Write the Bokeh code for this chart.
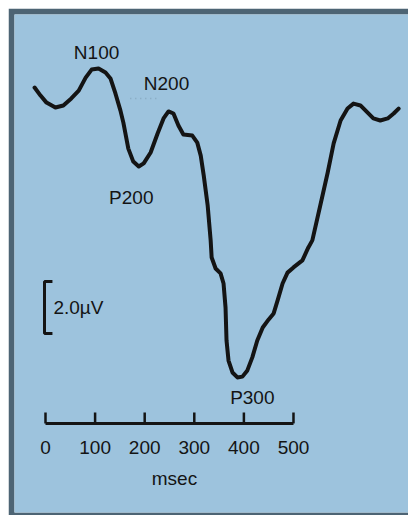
from bokeh.plotting import figure
from bokeh.models import Range1d, Label
from bokeh.core.properties import value
from bokeh.embed import file_html
from bokeh.resources import INLINE

# ERP waveform: time (ms) and amplitude (µV, negative plotted up)
time_ms = [-22, -10, 2, 20, 36, 52, 67, 81, 93, 107, 121, 131, 141, 151, 157, 167, 177,
           188, 198, 212, 226, 238, 248, 258, 268, 278, 296, 306, 313, 319, 327, 333,
           335, 343, 353, 359, 363, 365, 369, 377, 387, 397, 407, 417, 427, 438, 450,
           460, 468, 478, 488, 500, 518, 530, 538, 554, 569, 581, 595, 609, 621, 635,
           649, 661, 675, 690, 702, 712]
amp_uv = [-0.50, -0.19, 0.08, 0.27, 0.19, -0.08, -0.38, -0.88, -1.19, -1.23, -1.08,
          -0.85, -0.27, 0.38, 0.85, 1.85, 2.35, 2.54, 2.42, 2.00, 1.27, 0.69, 0.42, 0.50,
          0.96, 1.31, 1.35, 1.62, 2.12, 2.88, 4.04, 5.38, 6.04, 6.46, 6.65, 7.04, 7.96,
          9.23, 10.00, 10.46, 10.65, 10.62, 10.38, 9.88, 9.23, 8.73, 8.42, 8.19, 7.69,
          7.04, 6.62, 6.42, 6.15, 5.65, 5.38, 4.04, 2.77, 1.65, 0.77, 0.31, 0.12, 0.19,
          0.46, 0.69, 0.77, 0.69, 0.50, 0.31]

tick_values = [0, 100, 200, 300, 400, 500]
tick_labels = ["0", "100", "200", "300", "400", "500"]

peak_names = ["N100", "N200", "P200", "P300"]
peak_label_t = [103, 244, 173, 417]
peak_label_v = [-1.85, -0.65, 3.73, 11.42]

scale_uv = 2.0

FONT = "Liberation Sans"
FS = "19px"
INK = "#141414"

p = figure(width=400, height=507, output_backend="svg", toolbar_location=None,
           x_range=Range1d(-62.5, 731.9), y_range=Range1d(15.846, -3.308),
           min_border_left=6, min_border_top=6, min_border_right=0, min_border_bottom=3,
           margin=(8, 0, 0, 8))
p.axis.visible = False
p.grid.visible = False
p.background_fill_color = "#9dc3dd"
p.border_fill_color = "#4d6474"
p.outline_line_color = None

# waveform
p.line(time_ms, amp_uv, line_color=INK, line_width=4, line_join="round", line_cap="round")

# faint dotted marks near N200
p.line([171, 226], [-0.08, -0.08], line_color="#7f9fb4", line_width=1.5,
       line_dash="1 4", line_alpha=0.8)

# time axis drawn inside the panel
axis_v = 12.42
p.line([tick_values[0], tick_values[-1]], [axis_v, axis_v], line_color=INK, line_width=3)
p.segment(x0=tick_values, y0=[axis_v] * len(tick_values), x1=tick_values,
          y1=[axis_v - 0.42] * len(tick_values), line_color=INK, line_width=2.5)
p.text(x=tick_values, y=[13.35] * len(tick_values), text=tick_labels,
       text_font=value(FONT), text_font_size=FS, text_color=INK,
       text_align="center", text_baseline="middle")
p.add_layout(Label(x=260, y=14.54, text="msec", text_font=FONT, text_font_size=FS,
                   text_color=INK, text_align="center", text_baseline="middle"))

# scale bar
sb_top = 6.96
sb_x = -2
p.line([14, sb_x, sb_x, 14], [sb_top, sb_top, sb_top + scale_uv, sb_top + scale_uv],
       line_color=INK, line_width=3)
p.add_layout(Label(x=16, y=sb_top + scale_uv / 2, text=f"{scale_uv:.1f}µV", text_font=FONT,
                   text_font_size=FS, text_color=INK, text_align="left",
                   text_baseline="middle"))

for name, t, v in zip(peak_names, peak_label_t, peak_label_v):
    p.add_layout(Label(x=t, y=v, text=name, text_font=FONT, text_font_size=FS,
                       text_color=INK, text_align="center", text_baseline="middle"))

open("out.html", "w").write(file_html(p, INLINE))
